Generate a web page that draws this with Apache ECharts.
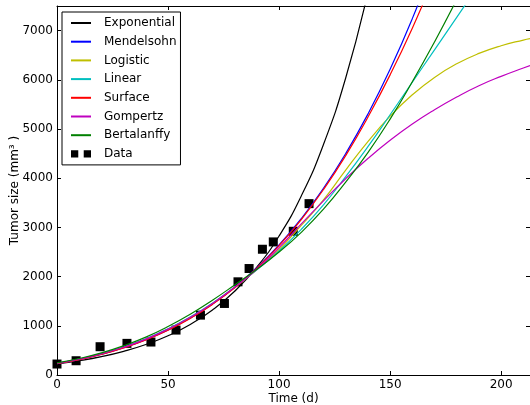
<!DOCTYPE html>
<html>
<head>
<meta charset="utf-8">
<script src="https://cdn.jsdelivr.net/npm/echarts@6/dist/echarts.min.js"></script>
<style>
html, body { margin: 0; padding: 0; background: #fff; }
#main { width: 530px; height: 405px; }
</style>
</head>
<body>
<div id="main"></div>
<script>
// sample times (d) for the fitted curves
var fitT = [0, 10, 20, 30, 40, 50, 60, 70, 80, 90, 100, 110, 120, 130, 140, 150, 160, 170, 180, 190, 200, 210, 213];

// fitted curves, tumor size in mm3
var expoVals = [225, 290, 373, 481, 619, 797, 1027, 1322, 1703, 2194, 2825, 3639, 4686, 6036, 7773];
var mendVals = [230, 314, 421, 555, 718, 917, 1158, 1443, 1781, 2182, 2643, 3179, 3795, 4500, 5302, 6212, 7243, 8403];
var logiVals = [235, 318, 426, 560, 725, 925, 1165, 1448, 1775, 2145, 2550, 3040, 3560, 4165, 4744, 5260, 5696, 6049, 6325, 6536, 6693, 6808, 6836];
var linVals = [240, 325, 435, 570, 735, 940, 1180, 1460, 1785, 2140, 2520, 2960, 3460, 4030, 4640, 5290, 5950, 6610, 7270, 7930];
var surfVals = [230, 312, 418, 551, 713, 910, 1150, 1435, 1772, 2170, 2630, 3160, 3770, 4460, 5240, 6100, 7050, 8100];
var gompVals = [238, 322, 430, 565, 730, 932, 1172, 1455, 1785, 2150, 2590, 3070, 3540, 3990, 4400, 4770, 5100, 5390, 5650, 5880, 6070, 6240, 6290];
var bertVals = [245, 335, 450, 595, 770, 985, 1235, 1520, 1830, 2150, 2500, 2900, 3370, 3920, 4520, 5200, 5960, 6770, 7630];

// measured data
var dataT = [0, 8.6, 19.4, 31.5, 42.3, 53.6, 64.6, 75.4, 81.5, 86.5, 92.5, 97.4, 106.4, 113.5];
var dataV = [223, 290, 575, 643, 670, 913, 1217, 1454, 1894, 2164, 2556, 2705, 2921, 3483];

var lineNames = ['Exponential', 'Mendelsohn', 'Logistic', 'Linear', 'Surface', 'Gompertz', 'Bertalanffy'];
var lineColors = ['#000000', '#0000ff', '#bfbf00', '#00bfbf', '#ff0000', '#bf00bf', '#008000'];
var lineVals = [expoVals, mendVals, logiVals, linVals, surfVals, gompVals, bertVals];

var font = 'DejaVu Sans';

function pairs(vals) {
	return vals.map(function (v, i) { return [fitT[i], v]; });
}

var series = lineNames.map(function (name, k) {
	return {
		name: name,
		type: 'line',
		data: pairs(lineVals[k]),
		symbol: 'none',
		smooth: true,
		clip: true,
		lineStyle: { color: lineColors[k], width: 1.2 },
		itemStyle: { color: lineColors[k] }
	};
});
series.push({
	name: 'Data',
	type: 'scatter',
	data: dataT.map(function (t, i) { return [t, dataV[i]]; }),
	symbol: 'rect',
	symbolSize: 9,
	itemStyle: { color: '#000', opacity: 1 }
});

// legend entries: plain lines for the fits, two squares for the data
var legendData = lineNames.map(function (name) {
	return { name: name, itemStyle: { opacity: 0 } };
});
legendData.push({ name: 'Data', icon: 'path://M0,0H8V8H0Z M14,0H22V8H14Z', itemStyle: { color: '#000', opacity: 1 } });

var tickStyle = { inside: true, length: 4, lineStyle: { color: '#000', width: 1 } };
var lineStyle = { onZero: false, lineStyle: { color: '#000', width: 1 } };
var labelStyle = { color: '#000', fontFamily: font, fontSize: 12 };

var option = {
	animation: false,
	backgroundColor: '#fff',
	grid: { left: 57, right: 0, top: 6, bottom: 30, outerBoundsMode: 'none', containLabel: false },
	legend: {
		orient: 'vertical',
		left: 62,
		top: 12,
		padding: [5, 4, 5, 8],
		itemGap: 6.7,
		itemWidth: 20,
		itemHeight: 8,
		borderColor: '#000',
		borderWidth: 1,
		borderRadius: 0,
		backgroundColor: '#fff',
		textStyle: { color: '#000', fontFamily: font, fontSize: 12, padding: [0, 0, 0, 8] },
		data: legendData
	},
	xAxis: [{
		type: 'value', min: 0, max: 213, interval: 50, position: 'bottom',
		axisLine: lineStyle, axisTick: tickStyle, splitLine: { show: false },
		axisLabel: {
			color: '#000', fontFamily: font, fontSize: 12, margin: 4,
			formatter: function (v) { return v % 50 === 0 ? String(v) : ''; }
		},
		name: 'Time (d)', nameLocation: 'middle', nameGap: 18, nameMoveOverlap: false,
		nameTextStyle: labelStyle
	}, {
		type: 'value', min: 0, max: 213, interval: 50, position: 'top',
		axisLine: lineStyle, axisTick: tickStyle, splitLine: { show: false },
		axisLabel: { show: false }
	}],
	yAxis: [{
		type: 'value', min: 0, max: 7500, interval: 1000, position: 'left',
		axisLine: lineStyle, axisTick: tickStyle, splitLine: { show: false },
		axisLabel: {
			color: '#000', fontFamily: font, fontSize: 12, margin: 4,
			formatter: function (v) { return v % 1000 === 0 ? String(v) : ''; }
		},
		name: 'Tumor size (mm³ )', nameLocation: 'middle', nameGap: 36, nameMoveOverlap: false,
		nameTextStyle: labelStyle
	}, {
		type: 'value', min: 0, max: 7500, interval: 1000, position: 'right',
		axisLine: lineStyle, axisTick: tickStyle, splitLine: { show: false },
		axisLabel: { show: false }
	}],
	series: series
};

var myChart = echarts.init(document.getElementById('main'));
myChart.setOption(option);
</script>
</body>
</html>
